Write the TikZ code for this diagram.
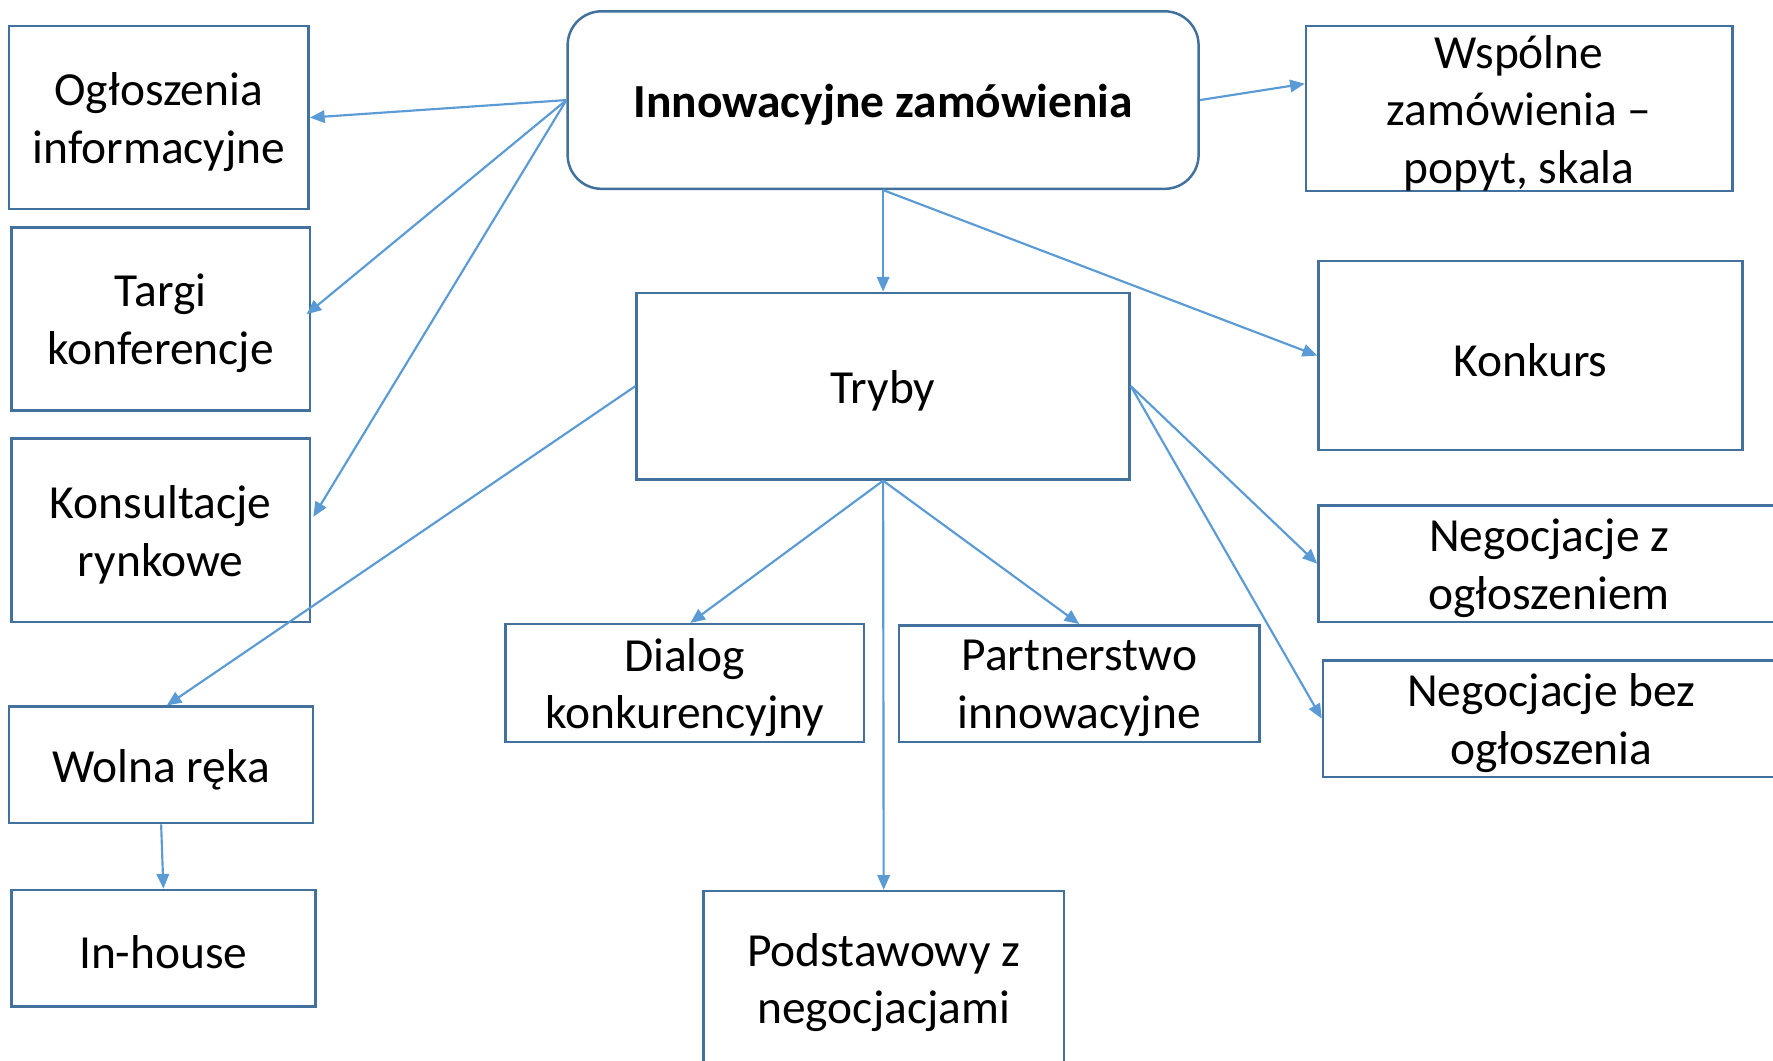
\documentclass[tikz,border=0pt]{standalone}
\usepackage{fontspec}
\setmainfont{Carlito}
\usetikzlibrary{arrows.meta,calc}
\definecolor{boxline}{HTML}{41719C}
\definecolor{conline}{HTML}{5B9BD5}
\tikzset{
  box/.style={draw=boxline, line width=2.2pt, fill=white, inner sep=0pt},
  txt/.style={align=center, inner sep=0pt, yshift=-4pt, font=\fontsize{42}{51}\selectfont},
  conn/.style={draw=conline, line width=1.9pt, -{Triangle[length=13pt,width=11pt]}}
}
\begin{document}
\begin{tikzpicture}[x=1pt,y=-1pt]
\clip (0,0) rectangle (1568,938);
\fill[white] (0,0) rectangle (1568,938);
\node[box, minimum width=265pt, minimum height=162pt, label={[txt]center:{Ogłoszenia\\informacyjne}}] (ogl) at (140.5,104) {};
\node[box, minimum width=264pt, minimum height=162pt, label={[txt]center:{Targi\\konferencje}}] (targi) at (142,282) {};
\node[box, minimum width=264pt, minimum height=162pt, label={[txt]center:{Konsultacje\\rynkowe}}] (kons) at (142,469) {};
\node[box, minimum width=269pt, minimum height=103pt, label={[txt]center:{Wolna ręka}}] (wolna) at (142.5,676.5) {};
\node[box, minimum width=269pt, minimum height=103pt, label={[txt]center:{In-house}}] (inhouse) at (144.5,838.5) {};
\node[box, rounded corners=30pt, minimum width=558pt, minimum height=157pt, label={[txt]center:{\bfseries Innowacyjne zamówienia}}] (inn) at (781,88.5) {};
\node[box, minimum width=377pt, minimum height=146pt, label={[txt]center:{Wspólne\\zamówienia –\\popyt, skala}}] (wsp) at (1343.5,96) {};
\node[box, minimum width=436pt, minimum height=165pt, label={[txt]center:{Tryby}}] (tryby) at (781,341.5) {};
\node[box, minimum width=375pt, minimum height=167pt, label={[txt]center:{Konkurs}}] (konkurs) at (1353.5,314.5) {};
\node[box, minimum width=408pt, minimum height=103pt, label={[txt]center:{Negocjacje z\\ogłoszeniem}}] (negz) at (1370,498.5) {};
\node[box, minimum width=404pt, minimum height=103pt, label={[txt]center:{Negocjacje bez\\ogłoszenia}}] (negb) at (1372,635.5) {};
\node[box, minimum width=317pt, minimum height=104pt, label={[txt]center:{Dialog\\konkurencyjny}}] (dialog) at (605.5,604) {};
\node[box, minimum width=319pt, minimum height=103pt, label={[txt]center:{Partnerstwo\\innowacyjne}}] (partner) at (954.5,604.5) {};
\node[box, minimum width=319pt, minimum height=154pt, label={[txt]center:{Podstawowy z\\negocjacjami}}] (podst) at (781.5,865) {};

\draw[conn] (inn.west) -- (ogl.east);
\draw[conn] (inn.west) -- ($(targi.east)+(-4,-4)$);
\draw[conn] (inn.west) -- ($(kons.east)+(2,-12)$);
\draw[conn] (inn.east) -- ($(wsp.west)+(0,-22)$);
\draw[conn] (inn.south) -- (tryby.north);
\draw[conn] (inn.south) -- (konkurs.west);
\draw[conn] (tryby.west) -- ($(wolna.north)+(5,0)$);
\draw[conn] (tryby.south) -- ($(dialog.north)+(5,0)$);
\draw[conn] (tryby.south) -- (partner.north);
\draw[conn] (tryby.south) -- (podst.north);
\draw[conn] (tryby.east) -- (negz.west);
\draw[conn] (tryby.east) -- (negb.west);
\draw[conn] (wolna.south) -- (inhouse.north);
\end{tikzpicture}
\end{document}
